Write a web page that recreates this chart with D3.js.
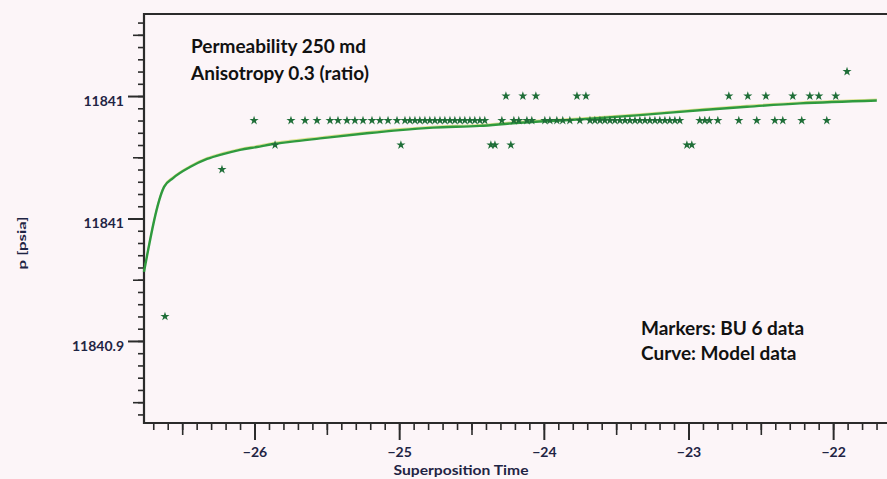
<!DOCTYPE html>
<html>
<head>
<meta charset="utf-8">
<script src="https://d3js.org/d3.v7.min.js"></script>
<style>
  body { margin: 0; background: #fcf5f8; }
  svg { display: block; }
  .tick text { font-family: Lato, "Open Sans", sans-serif; font-weight: 700; font-size: 14px; fill: #1f2444; }
</style>
</head>
<body>
<div id="chart"></div>
<script>
var svgWidth = 887;
var svgHeight = 479;

// model curve (superposition time, pressure psia)
var curveTime = [-26.764, -26.625, -26.563, -26.446, -26.328, -26.218, -26.100, -25.983, -25.872,
  -25.755, -25.547, -25.223, -24.994, -24.766, -24.442, -24.214, -23.730, -23.336, -22.901,
  -22.596, -22.230, -21.698];
var curvePressure = [11840.9782, 11841.0129, 11841.0165, 11841.0210, 11841.0243, 11841.0263,
  11841.0280, 11841.0292, 11841.0304, 11841.0313, 11841.0327, 11841.0348, 11841.0361, 11841.0371,
  11841.0378, 11841.0389, 11841.0405, 11841.0422, 11841.0443, 11841.0456, 11841.0470, 11841.0482];

// BU 6 data: gauge resolution gives discrete pressure levels
var markerLevels = [11841.06, 11841.05, 11841.04, 11841.03, 11841.02, 11840.96];
var markerTimes = [
  [-21.904],
  [-24.262, -24.145, -24.055, -23.771, -23.709, -22.721, -22.590, -22.465, -22.279, -22.161, -22.099, -21.982],
  [-26.003, -25.748, -25.651, -25.568, -25.478, -25.423, -25.361, -25.306, -25.250, -25.188, -25.133,
   -25.077, -25.015, -24.960, -24.926, -24.891, -24.857, -24.822, -24.788, -24.753, -24.718, -24.684,
   -24.649, -24.615, -24.580, -24.546, -24.511, -24.477, -24.442, -24.408, -24.290, -24.207, -24.173,
   -24.117, -24.083, -23.993, -23.958, -23.910, -23.869, -23.820, -23.751, -23.681, -23.647, -23.612,
   -23.578, -23.543, -23.509, -23.474, -23.439, -23.405, -23.370, -23.336, -23.301, -23.267, -23.232,
   -23.198, -23.163, -23.129, -23.094, -23.060, -22.922, -22.887, -22.856, -22.797, -22.652, -22.528,
   -22.403, -22.348, -22.217, -22.044],
  [-25.858, -24.988, -24.366, -24.338, -24.228, -23.011, -22.977],
  [-26.225],
  [-26.619]
];

var xTickValues = [-26, -25, -24, -23, -22];
var yTickValues = [11841.05, 11841.00, 11840.95];
var yTickLabels = ["11841", "11841", "11840.9"];

var plot = { left: 144, top: 14, right: 891, bottom: 423 };

var svg = d3.select("#chart")
  .append("svg")
  .attr("width", svgWidth)
  .attr("height", svgHeight);

svg.append("rect")
  .attr("width", svgWidth)
  .attr("height", svgHeight)
  .attr("fill", "#fcf5f8");

var xScale = d3.scaleLinear()
  .domain([-26.764, -21.6])
  .range([plot.left, plot.right]);

var yScale = d3.scaleLinear()
  .domain([11840.9165, 11841.0835])
  .range([plot.bottom, plot.top]);

// tick positions: minor every 1/10, medium at 1/2, major at labels
var xMinor = d3.range(-267, -216).map(d => d / 10).filter(d => d > -26.764);
var xMedium = [-26.5, -25.5, -24.5, -23.5, -22.5];
var yMinor = d3.range(0, 34).map(d => 11840.92 + d * 0.005).filter(d => d < 11841.0835);
var yMedium = [11841.075, 11841.025, 11840.975, 11840.925];

function cleanAxis(g, width) {
  g.select(".domain").remove();
  g.selectAll("line").attr("stroke", "#2b2b2b").attr("stroke-width", width);
}

// x axis
svg.append("g")
  .attr("transform", `translate(0,${plot.bottom})`)
  .call(d3.axisBottom(xScale).tickValues(xMinor).tickSize(7).tickFormat(""))
  .call(g => cleanAxis(g, 1.6));

svg.append("g")
  .attr("transform", `translate(0,${plot.bottom})`)
  .call(d3.axisBottom(xScale).tickValues(xMedium).tickSize(12).tickFormat(""))
  .call(g => cleanAxis(g, 1.6));

svg.append("g")
  .attr("transform", `translate(0,${plot.bottom})`)
  .call(d3.axisBottom(xScale).tickValues(xTickValues).tickSize(17).tickPadding(7).tickFormat(d3.format("d")))
  .call(g => cleanAxis(g, 2));

// y axis
svg.append("g")
  .attr("transform", `translate(${plot.left},0)`)
  .call(d3.axisLeft(yScale).tickValues(yMinor).tickSize(6).tickFormat(""))
  .call(g => cleanAxis(g, 1.6));

svg.append("g")
  .attr("transform", `translate(${plot.left},0)`)
  .call(d3.axisLeft(yScale).tickValues(yMedium).tickSize(11).tickFormat(""))
  .call(g => cleanAxis(g, 1.6));

var yMajor = svg.append("g")
  .attr("transform", `translate(${plot.left},0)`)
  .call(d3.axisLeft(yScale).tickValues(yTickValues).tickSize(16).tickPadding(4)
    .tickFormat((d, i) => yTickLabels[i]))
  .call(g => cleanAxis(g, 2));
yMajor.selectAll("text").attr("dy", "0.66em");

// frame
svg.append("path")
  .attr("d", `M${plot.right},${plot.top}H${plot.left}V${plot.bottom}H${plot.right}`)
  .attr("fill", "none")
  .attr("stroke", "#2b2b2b")
  .attr("stroke-width", 2.2);

// model curve
var curvePoints = curveTime.map((t, i) => [t, curvePressure[i]]);
var line = d3.line()
  .x(d => xScale(d[0]))
  .y(d => yScale(d[1]))
  .curve(d3.curveMonotoneX);

svg.append("path")
  .datum(curvePoints)
  .attr("d", line)
  .attr("fill", "none")
  .attr("stroke", "#d6dc74")
  .attr("stroke-width", 1.2)
  .attr("opacity", 0.8)
  .attr("transform", "translate(0,-1.4)");

svg.append("path")
  .datum(curvePoints)
  .attr("d", line)
  .attr("fill", "none")
  .attr("stroke", "#2f9a3e")
  .attr("stroke-width", 2.4);

// markers
var markers = [];
markerLevels.forEach(function(p, i) {
  markerTimes[i].forEach(t => markers.push({ time: t, p: p }));
});

svg.append("g")
  .selectAll("path")
  .data(markers)
  .enter()
  .append("path")
  .attr("d", d3.symbol().type(d3.symbolStar).size(26))
  .attr("transform", d => `translate(${xScale(d.time)},${yScale(d.p)})`)
  .attr("fill", "#1f6e38");

// axis titles
svg.append("text")
  .attr("x", 461)
  .attr("y", 475)
  .attr("text-anchor", "middle")
  .attr("textLength", 135)
  .attr("lengthAdjust", "spacingAndGlyphs")
  .style("font-family", "Lato, sans-serif")
  .style("font-weight", 700)
  .style("font-size", "14px")
  .style("fill", "#1f2444")
  .text("Superposition Time");

svg.append("text")
  .attr("transform", "translate(26,243) rotate(-90)")
  .attr("text-anchor", "middle")
  .attr("textLength", 53)
  .attr("lengthAdjust", "spacingAndGlyphs")
  .style("font-family", "Lato, sans-serif")
  .style("font-weight", 700)
  .style("font-size", "12px")
  .style("fill", "#1f2444")
  .text("p [psia]");

// annotations
var notes = [
  { text: "Permeability 250 md", x: 191, y: 53 },
  { text: "Anisotropy 0.3 (ratio)", x: 191, y: 80 },
  { text: "Markers: BU 6 data", x: 641, y: 335 },
  { text: "Curve: Model data", x: 641, y: 360 }
];

svg.selectAll(".note")
  .data(notes)
  .enter()
  .append("text")
  .attr("class", "note")
  .attr("x", d => d.x)
  .attr("y", d => d.y)
  .style("font-family", "Lato, sans-serif")
  .style("font-weight", 700)
  .style("font-size", "19px")
  .style("fill", "#111")
  .text(d => d.text);
</script>
</body>
</html>
